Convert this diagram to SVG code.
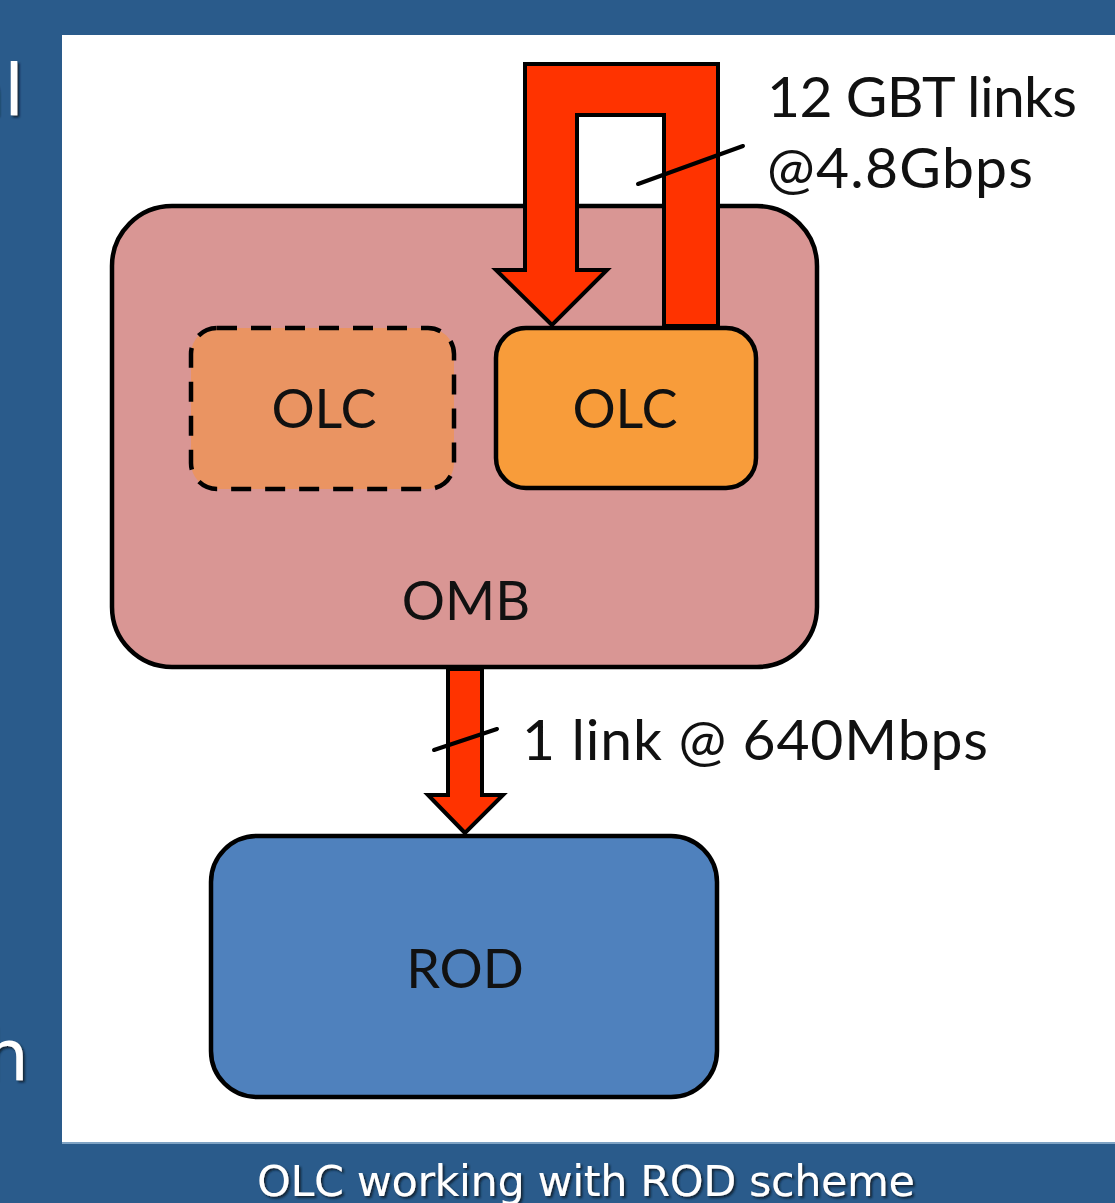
<svg xmlns="http://www.w3.org/2000/svg" width="1115" height="1203" viewBox="0 0 1115 1203">
  <defs>
    <style>
      .lbl { font-family: Lato, "Open Sans", "Liberation Sans", sans-serif; font-size: 57px; fill: #111; }
      .name { font-family: Lato, "Open Sans", "Liberation Sans", sans-serif; font-size: 54px; fill: #111; text-anchor: middle; }
      .box { stroke: #000; stroke-width: 4.5; }
      .arrow { fill: #ff3300; stroke: #000; stroke-width: 4; stroke-linejoin: miter; }
      .slash { stroke: #000; stroke-width: 4; stroke-linecap: round; fill: none; }
      .slide { font-family: "DejaVu Sans", Verdana, sans-serif; fill: #fff; }
    </style>
    <filter id="shadow" x="-5%" y="-30%" width="110%" height="160%">
      <feDropShadow dx="2" dy="2" stdDeviation="1" flood-color="#0b1c2e" flood-opacity="0.9"/>
    </filter>
  </defs>

  <rect x="0" y="0" width="1115" height="1203" fill="#2a5b8b"/>
  <rect x="62" y="35" width="1053" height="1107" fill="#ffffff"/>
  <line x1="62" y1="1143" x2="1115" y2="1143" stroke="#7fa3c4" stroke-width="2"/>

  <text class="slide" x="24" y="115" font-size="72" text-anchor="end" filter="url(#shadow)">al</text>
  <text class="slide" x="29" y="1080" font-size="72" text-anchor="end" filter="url(#shadow)">h</text>

  <g id="omb">
    <rect class="box" x="112" y="206" width="705" height="461" rx="60" ry="60" fill="#d99694"/>
    <text class="name" x="466" y="620">OMB</text>
  </g>

  <g id="olc-spare">
    <rect x="191" y="328" width="263" height="161" rx="26" ry="26" fill="#ea9462" stroke="#000" stroke-width="4.5" stroke-dasharray="20 14"/>
    <text class="name" x="324" y="428">OLC</text>
  </g>

  <g id="olc">
    <rect class="box" x="496" y="328" width="260" height="160" rx="30" ry="30" fill="#f89c3a"/>
    <text class="name" x="625" y="428">OLC</text>
  </g>

  <g id="rod">
    <rect class="box" x="211" y="836" width="506" height="261" rx="46" ry="46" fill="#4f81bd"/>
    <text class="name" x="465" y="988">ROD</text>
  </g>

  <g id="connectors">
    <path class="arrow" d="M552 325 L496 270 L525 270 L525 64 L718 64 L718 326 L664 326 L664 115 L577 115 L577 270 L607 270 Z"/>
    <line class="slash" x1="638" y1="184" x2="743" y2="146"/>
    <text class="lbl" x="767" y="117" textLength="310">12 GBT links</text>
    <text class="lbl" x="767" y="188" textLength="266">@4.8Gbps</text>

    <path class="arrow" d="M465 833 L428 795 L448 795 L448 669 L482 669 L482 795 L503 795 Z"/>
    <line class="slash" x1="434" y1="750" x2="497" y2="729"/>
    <text class="lbl" x="522" y="760" textLength="466">1 link @ 640Mbps</text>
  </g>

  <text class="slide" x="257" y="1196" font-size="43" textLength="658" filter="url(#shadow)">OLC working with ROD scheme</text>
</svg>
